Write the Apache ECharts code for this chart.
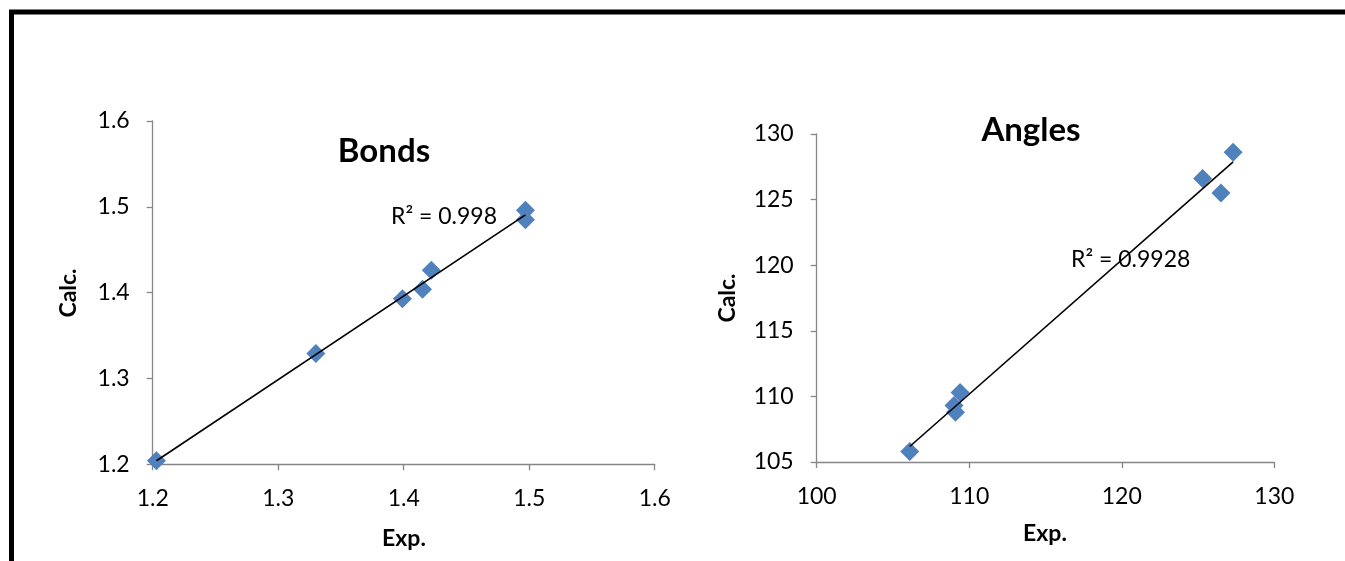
<!DOCTYPE html>
<html>
<head>
<meta charset="utf-8">
<script src="https://cdn.jsdelivr.net/npm/echarts@6/dist/echarts.min.js"></script>
<style>
html,body{margin:0;padding:0;background:#fff;}
#c{width:1345px;height:561px;}
</style>
</head>
<body>
<div id="c"></div>
<script>
// ---- data ----
const bondsExp  = [1.203, 1.330, 1.399, 1.415, 1.422, 1.497, 1.497];
const bondsCalc = [1.204, 1.329, 1.393, 1.404, 1.426, 1.496, 1.485];
const anglesExp  = [106.1, 109.1, 109.0, 109.4, 125.3, 126.5, 127.3];
const anglesCalc = [105.8, 108.8, 109.3, 110.3, 126.6, 125.5, 128.6];
const bondsXTicks  = [1.2, 1.3, 1.4, 1.5, 1.6];
const bondsYTicks  = [1.2, 1.3, 1.4, 1.5, 1.6];
const anglesXTicks = [100, 110, 120, 130];
const anglesYTicks = [105, 110, 115, 120, 125, 130];
const bondsR2 = 'R² = 0.998';
const anglesR2 = 'R² = 0.9928';

function pairs(xs, ys){ return xs.map((x,i)=>[x, ys[i]]); }
function trend(xs, ys){
  const n = xs.length;
  const mx = xs.reduce((a,b)=>a+b,0)/n, my = ys.reduce((a,b)=>a+b,0)/n;
  let sxy=0, sxx=0;
  for(let i=0;i<n;i++){ sxy+=(xs[i]-mx)*(ys[i]-my); sxx+=(xs[i]-mx)*(xs[i]-mx); }
  const b = sxy/sxx, a = my - b*mx;
  const x0 = Math.min(...xs), x1 = Math.max(...xs);
  return [[x0, a+b*x0],[x1, a+b*x1]];
}

const FONT = 'Lato, "Open Sans", sans-serif';
const axisColor = '#868686';
const blue = '#4F81BD';

function xAxisCfg(grid, ticks, dec){
  return {
    type:'value', gridIndex:grid, min:ticks[0], max:ticks[ticks.length-1],
    interval: ticks[1]-ticks[0],
    axisLine:{show:true, lineStyle:{color:axisColor, width:1.3}},
    axisTick:{show:true, inside:false, length:6, lineStyle:{color:axisColor, width:1.3}},
    splitLine:{show:false},
    axisLabel:{color:'#000', fontFamily:FONT, fontSize:23, margin:23,
      formatter:v=>v.toFixed(dec)}
  };
}
function yAxisCfg(grid, ticks, dec){
  const c = xAxisCfg(grid, ticks, dec);
  c.axisLabel.margin = 23;
  return c;
}

const chart = echarts.init(document.getElementById('c'), null, {renderer:'canvas'});
chart.setOption({
  backgroundColor:'#fff',
  animation:false,
  grid:[
    {left:152.7, top:121, width:502, height:343.3},
    {left:816.7, top:134, width:457.6, height:328}
  ],
  xAxis:[xAxisCfg(0, bondsXTicks, 1), xAxisCfg(1, anglesXTicks, 0)],
  yAxis:[yAxisCfg(0, bondsYTicks, 1), yAxisCfg(1, anglesYTicks, 0)],
  series:[
    {type:'line', xAxisIndex:0, yAxisIndex:0, data:trend(bondsExp, bondsCalc),
     symbol:'none', lineStyle:{color:'#000', width:1.6}, z:3},
    {type:'scatter', xAxisIndex:0, yAxisIndex:0, data:pairs(bondsExp, bondsCalc),
     symbol:'diamond', symbolSize:19, itemStyle:{color:blue, opacity:1}, z:2},
    {type:'line', xAxisIndex:1, yAxisIndex:1, data:trend(anglesExp, anglesCalc),
     symbol:'none', lineStyle:{color:'#000', width:1.6}, z:3},
    {type:'scatter', xAxisIndex:1, yAxisIndex:1, data:pairs(anglesExp, anglesCalc),
     symbol:'diamond', symbolSize:19, itemStyle:{color:blue, opacity:1}, z:2}
  ],
  graphic:[
    {type:'rect', shape:{x:11.5, y:12, width:1400, height:600},
     style:{fill:'none', stroke:'#000', lineWidth:5}, z:10},
    {type:'text', x:384, y:151, style:{text:'Bonds', font:'bold 33px '+FONT, fill:'#000', align:'center', verticalAlign:'middle'}},
    {type:'text', x:1031, y:130, style:{text:'Angles', font:'bold 33px '+FONT, fill:'#000', align:'center', verticalAlign:'middle'}},
    {type:'text', x:391, y:217, style:{text:bondsR2, font:'23px '+FONT, fill:'#000', align:'left', verticalAlign:'middle'}, z:20},
    {type:'text', x:1071, y:260, style:{text:anglesR2, font:'23px '+FONT, fill:'#000', align:'left', verticalAlign:'middle'}, z:20},
    {type:'text', x:69, y:293, rotation:Math.PI/2, style:{text:'Calc.', font:'bold 23px '+FONT, fill:'#000', align:'center', verticalAlign:'middle'}},
    {type:'text', x:728, y:298, rotation:Math.PI/2, style:{text:'Calc.', font:'bold 23px '+FONT, fill:'#000', align:'center', verticalAlign:'middle'}},
    {type:'text', x:404, y:539, style:{text:'Exp.', font:'bold 23px '+FONT, fill:'#000', align:'center', verticalAlign:'middle'}},
    {type:'text', x:1045, y:534, style:{text:'Exp.', font:'bold 23px '+FONT, fill:'#000', align:'center', verticalAlign:'middle'}}
  ]
});
</script>
</body>
</html>
